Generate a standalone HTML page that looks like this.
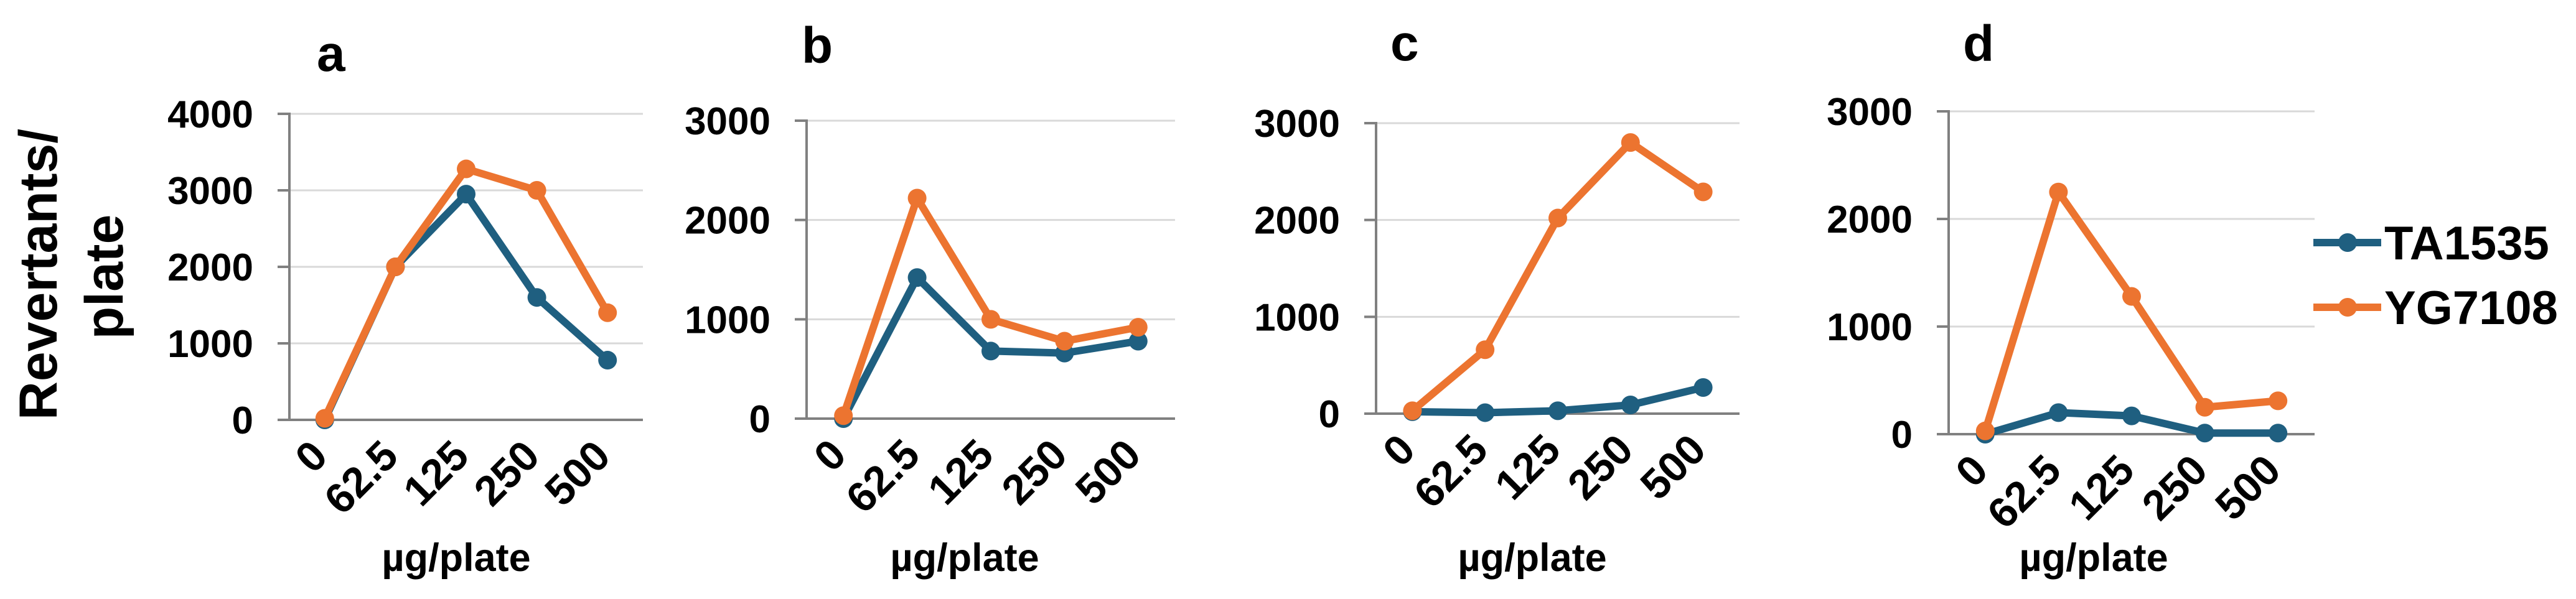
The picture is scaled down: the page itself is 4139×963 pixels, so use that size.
<!DOCTYPE html>
<html><head><meta charset="utf-8"><style>
html,body{margin:0;padding:0;background:#fff;}
svg{display:block;font-family:"Liberation Sans",Arial,sans-serif;font-weight:bold;}
</style></head><body>
<svg id="chart" width="4139" height="963" viewBox="0 0 4139 963" xmlns="http://www.w3.org/2000/svg">
<g>
<text transform="translate(91,441) rotate(-90)" text-anchor="middle" font-size="86" fill="#000">Revertants/</text>
<text transform="translate(197,445) rotate(-90)" text-anchor="middle" font-size="86" fill="#000">plate</text>
</g>
<g>
<g>
<line x1="3717" y1="390" x2="3826" y2="390" stroke="#1f5f80" stroke-width="12"/>
<circle cx="3772" cy="390" r="15" fill="#1f5f80"/>
<text x="3831" y="417" font-size="76" fill="#000">TA1535</text>
</g>
<g>
<line x1="3717" y1="494" x2="3826" y2="494" stroke="#ec7430" stroke-width="12"/>
<circle cx="3772" cy="494" r="15" fill="#ec7430"/>
<text x="3831" y="521" font-size="76" fill="#000">YG7108</text>
</g>
</g>
</svg>
<script>
const categories = ["0","62.5","125","250","500"];
const panelLabels = ["a","b","c","d"];
const yMaxes = [4000,3000,3000,3000];
const yTickStep = 1000;
const ta1535A = [0,2000,2950,1600,780];
const yg7108A = [20,2000,3280,3000,1400];
const ta1535B = [0,1420,680,660,780];
const yg7108B = [30,2220,1000,780,920];
const ta1535C = [20,10,30,90,270];
const yg7108C = [30,660,2020,2800,2290];
const ta1535D = [0,200,170,10,10];
const yg7108D = [30,2250,1280,250,310];

const taSeries = [ta1535A, ta1535B, ta1535C, ta1535D];
const ygSeries = [yg7108A, yg7108B, yg7108C, yg7108D];

const layout = [
  {x0:465,x1:1033,yTop:183,yZero:675,labX:509,labY:114,xlabX:733},
  {x0:1296,x1:1888,yTop:194,yZero:673,labX:1288,labY:101,xlabX:1550},
  {x0:2211,x1:2795,yTop:198,yZero:665,labX:2234,labY:97,xlabX:2462},
  {x0:3131,x1:3719,yTop:179,yZero:698,labX:3154,labY:98,xlabX:3364}
];
const NS = "http://www.w3.org/2000/svg";
const svg = document.getElementById("chart");
function mk(tag, attrs, parent){
  const e = document.createElementNS(NS, tag);
  for (const k in attrs) e.setAttribute(k, attrs[k]);
  parent.appendChild(e);
  return e;
}
const BLUE="#1f5f80", ORANGE="#ec7430";
layout.forEach((L, p) => {
  const g = mk("g", {}, svg);
  
  
  const yMax = yMaxes[p];
  const yS = v => L.yZero - (v / yMax) * (L.yZero - L.yTop);
  const bw = (L.x1 - L.x0) / categories.length;
  const xS = i => L.x0 + bw * (i + 0.5);
  const t = mk("text", {x:L.labX, y:L.labY, "font-size":82, fill:"#000"}, g);
  t.textContent = panelLabels[p];
  
  
  for (let v = 0; v <= yMax; v += yTickStep) {
    const y = yS(v);
    if (v > 0) {
      const gl = mk("line", {x1:L.x0, y1:y, x2:L.x1, y2:y, stroke:"#d9d9d9", "stroke-width":3}, g);
      
      
    }
    mk("line", {x1:L.x0-19, y1:y, x2:L.x0, y2:y, stroke:"#808080", "stroke-width":4}, g);
    const tl = mk("text", {x:L.x0-58, y:y+22, "text-anchor":"end", "font-size":62, fill:"#000"}, g);
    tl.textContent = String(v);
    
    
  }
  const ya = mk("line", {x1:L.x0, y1:L.yTop-2, x2:L.x0, y2:L.yZero, stroke:"#808080", "stroke-width":4}, g);
  
  
  const xa = mk("line", {x1:L.x0-19, y1:L.yZero, x2:L.x1, y2:L.yZero, stroke:"#808080", "stroke-width":4}, g);
  
  
  categories.forEach((c, i) => {
    const x = xS(i) + 8, y = L.yZero + 62;
    const xl = mk("text", {transform:`translate(${x},${y}) rotate(-45)`, "text-anchor":"end", "font-size":68, fill:"#000"}, g);
    xl.textContent = c;
    
    
  });
  const xt = mk("text", {x:L.xlabX, y:918, "text-anchor":"middle", "font-size":63, fill:"#000"}, g);
  xt.textContent = "\u00b5g/plate";
  
  
  [[taSeries[p], BLUE, "ta1535"], [ygSeries[p], ORANGE, "yg7108"]].forEach(([vals, col, nm]) => {
    const sg = mk("g", {}, g);
    
    
    const pts = vals.map((v, i) => xS(i) + "," + yS(v)).join(" ");
    const pl = mk("polyline", {points:pts, fill:"none", stroke:col, "stroke-width":12, "stroke-linejoin":"round"}, sg);
    
    
    vals.forEach((v, i) => {
      const c = mk("circle", {cx:xS(i), cy:yS(v), r:15, fill:col}, sg);
      
      
    });
  });
});
</script>
</body></html>
